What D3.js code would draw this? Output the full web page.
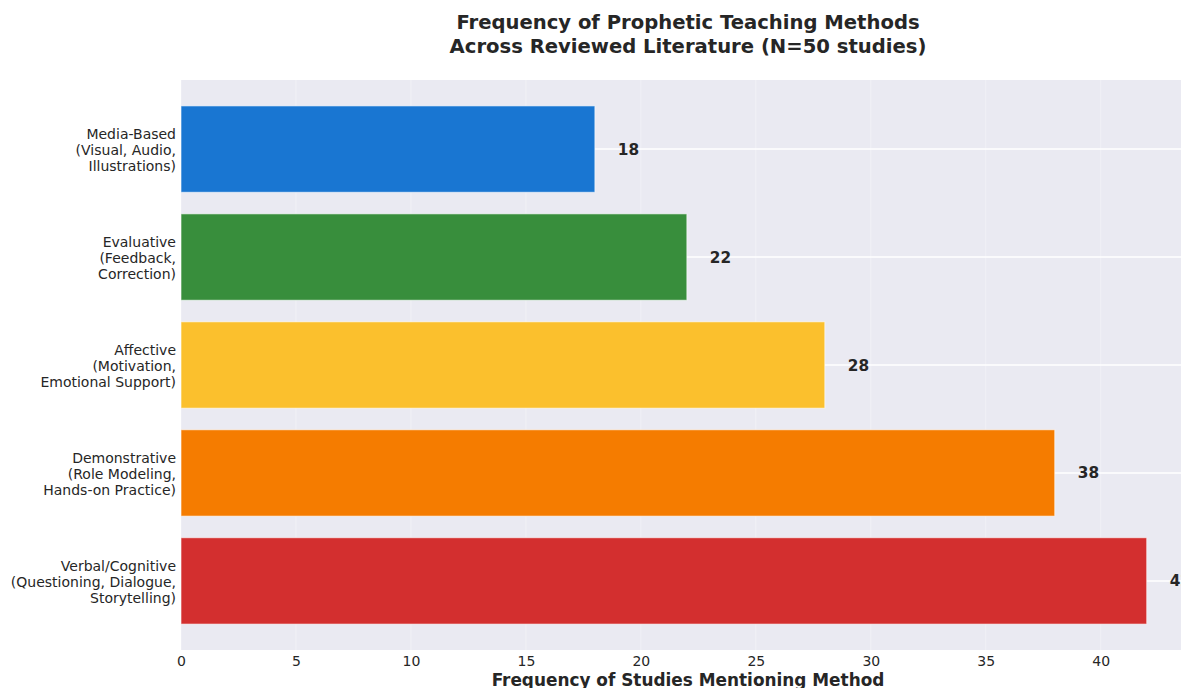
<!DOCTYPE html>
<html>
<head>
<meta charset="utf-8">
<script src="https://cdn.jsdelivr.net/npm/d3@7"></script>
<style>
  body { margin: 0; background: #fff; overflow: hidden; }
  text { font-family: "DejaVu Sans", sans-serif; }
</style>
</head>
<body>
<div id="chart"></div>
<script>
// data, top to bottom as drawn
const methods = [
    ["Media-Based", "(Visual, Audio,", "Illustrations)"],
    ["Evaluative", "(Feedback,", "Correction)"],
    ["Affective", "(Motivation,", "Emotional Support)"],
    ["Demonstrative", "(Role Modeling,", "Hands-on Practice)"],
    ["Verbal/Cognitive", "(Questioning, Dialogue,", "Storytelling)"]
];
const studyCounts = [18, 22, 28, 38, 42];
const barColors = ["#1976D2", "#388E3C", "#FBC02D", "#F57C00", "#D32F2F"];
const xTicks = [0, 5, 10, 15, 20, 25, 30, 35, 40];
const titleLines = ["Frequency of Prophetic Teaching Methods", "Across Reviewed Literature (N=50 studies)"];
const xLabel = "Frequency of Studies Mentioning Method";

const margin = { top: 80, left: 181 };
const width = 1014;   // runs past the window edge, like the original
const height = 570;

const svg = d3.select("#chart")
    .append("svg")
    .attr("width", 1181)
    .attr("height", 688);

// title
svg.append("text")
    .attr("x", margin.left + width / 2)
    .attr("y", 29)
    .attr("text-anchor", "middle")
    .attr("font-size", 19.6)
    .attr("font-weight", "bold")
    .attr("fill", "#262626")
    .selectAll("tspan")
    .data(titleLines)
    .enter()
    .append("tspan")
    .attr("x", margin.left + width / 2)
    .attr("dy", (d, i) => i === 0 ? 0 : 24)
    .text(d => d);

const g = svg.append("g")
    .attr("transform", "translate(" + margin.left + "," + margin.top + ")");

g.append("rect")
    .attr("width", width)
    .attr("height", height)
    .attr("fill", "#EAEAF2");

const x = d3.scaleLinear()
    .domain([0, 44.1])
    .range([0, width]);

const y = d3.scaleBand()
    .domain(d3.range(methods.length))
    .range([0, height])
    .paddingInner(0.2)
    .paddingOuter(0.24);

// vertical grid (faint)
g.append("g")
    .selectAll("line")
    .data(xTicks)
    .enter()
    .append("line")
    .attr("x1", d => x(d))
    .attr("x2", d => x(d))
    .attr("y1", 0)
    .attr("y2", height)
    .attr("stroke", "#ffffff")
    .attr("stroke-opacity", 0.35)
    .attr("stroke-width", 1);

// horizontal grid at category centres
g.append("g")
    .selectAll("line")
    .data(studyCounts)
    .enter()
    .append("line")
    .attr("x1", 0)
    .attr("x2", width)
    .attr("y1", (d, i) => y(i) + y.bandwidth() / 2)
    .attr("y2", (d, i) => y(i) + y.bandwidth() / 2)
    .attr("stroke", "#ffffff")
    .attr("stroke-width", 1.5);

// bars
g.append("g")
    .selectAll("rect")
    .data(studyCounts)
    .enter()
    .append("rect")
    .attr("x", x(0))
    .attr("y", (d, i) => y(i))
    .attr("width", d => x(d) - x(0))
    .attr("height", y.bandwidth())
    .attr("fill", (d, i) => barColors[i])
    .attr("stroke", "#ffffff")
    .attr("stroke-opacity", 0.6)
    .attr("stroke-width", 1);

// value labels
g.append("g")
    .selectAll("text")
    .data(studyCounts)
    .enter()
    .append("text")
    .attr("x", d => x(d + 1))
    .attr("y", (d, i) => y(i) + y.bandwidth() / 2 + 5.5)
    .attr("font-size", 15.3)
    .attr("font-weight", "bold")
    .attr("fill", "#262626")
    .text(d => d);

// x axis
const xAxis = g.append("g")
    .attr("transform", "translate(0," + height + ")")
    .call(d3.axisBottom(x).tickValues(xTicks).tickSize(0).tickPadding(6));
xAxis.select(".domain").remove();
xAxis.selectAll("text")
    .attr("font-family", "DejaVu Sans, sans-serif")
    .attr("font-size", 14)
    .attr("fill", "#262626");

// y axis labels (three lines each)
const yLabels = g.append("g")
    .selectAll("text")
    .data(methods)
    .enter()
    .append("text")
    .attr("text-anchor", "end")
    .attr("font-size", 14)
    .attr("fill", "#262626")
    .attr("y", (d, i) => y(i) + y.bandwidth() / 2 + 6);
yLabels.selectAll("tspan")
    .data(d => d)
    .enter()
    .append("tspan")
    .attr("x", -5)
    .attr("dy", (d, i) => i === 0 ? -16.4 : 16.4)
    .text(d => d);

// x label
svg.append("text")
    .attr("x", margin.left + width / 2)
    .attr("y", 686)
    .attr("text-anchor", "middle")
    .attr("font-size", 16.9)
    .attr("font-weight", "bold")
    .attr("fill", "#262626")
    .text(xLabel);
</script>
</body>
</html>
